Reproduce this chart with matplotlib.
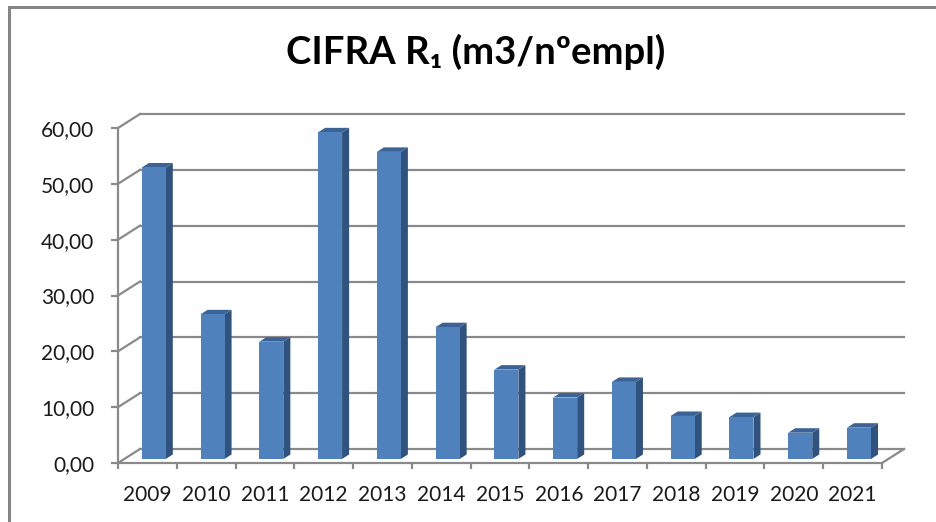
import numpy as np
import matplotlib.pyplot as plt
from matplotlib.patches import Polygon, Rectangle
from matplotlib.ticker import FuncFormatter

# data
years = ['2009', '2010', '2011', '2012', '2013', '2014', '2015',
         '2016', '2017', '2018', '2019', '2020', '2021']
values = [52.2, 25.9, 21.0, 58.5, 55.0, 23.6, 16.0,
          11.0, 13.8, 7.7, 7.5, 4.7, 5.6]
y_ticks = [0, 10, 20, 30, 40, 50, 60]
title = 'CIFRA R\u2081 (m3/n\u00baempl)'

W, H = 936, 522
fig = plt.figure(figsize=(W / 100, H / 100), dpi=100)

# front plane of the plot area in pixels
left_px, right_px = 118, 882
bottom_px, top_px = 463, 128
ax = fig.add_axes([left_px / W, 1 - bottom_px / H,
                   (right_px - left_px) / W, (bottom_px - top_px) / H])
n = len(years)
ax.set_xlim(0, n)
ax.set_ylim(0, 60)

# depth offset of the back wall, in data units
px_x = (right_px - left_px) / n
px_y = (bottom_px - top_px) / 60
DX = 22 / px_x
DY = 14 / px_y

grid_col = '#8a8a8a'
for g in y_ticks:
    ax.plot([DX, n + DX], [g + DY, g + DY], color=grid_col, lw=1.6, clip_on=False)
    ax.plot([0, DX], [g, g + DY], color=grid_col, lw=1.6, clip_on=False)
# right edge of the floor
ax.plot([n, n + DX], [0, DY], color=grid_col, lw=1.6, clip_on=False)

# 3d-looking bars
front_c, side_c, top_c = '#4f81bd', '#30527f', '#3b6396'
d0, d1 = 0.29, 0.61
w = 24 / px_x
for i, v in enumerate(values):
    xl = i + 0.5 - w / 2 + d0 * DX
    xr = xl + w
    yb = d0 * DY
    yt = v + d0 * DY
    ddx = (d1 - d0) * DX
    ddy = (d1 - d0) * DY
    ax.add_patch(Polygon([(xr, yb), (xr + ddx, yb + ddy), (xr + ddx, yt + ddy), (xr, yt)],
                         closed=True, fc=side_c, ec='none', clip_on=False, zorder=3))
    ax.add_patch(Polygon([(xl, yt), (xr, yt), (xr + ddx, yt + ddy), (xl + ddx, yt + ddy)],
                         closed=True, fc=top_c, ec='none', clip_on=False, zorder=3))
    ax.add_patch(Rectangle((xl, yb), w, v, fc=front_c, ec='none', clip_on=False, zorder=3))

# axes
for s in ['top', 'right']:
    ax.spines[s].set_visible(False)
for s in ['left', 'bottom']:
    ax.spines[s].set_color(grid_col)
    ax.spines[s].set_linewidth(1.6)

font = 'Lato'
ax.set_yticks(y_ticks)
ax.yaxis.set_major_formatter(FuncFormatter(lambda v, p: f'{v:.2f}'.replace('.', ',')))
ax.tick_params(axis='y', length=5, width=1.6, color=grid_col, pad=12,
               labelsize=15, labelcolor='#1a1a1a')
ax.set_xticks(np.arange(n + 1))
ax.set_xticklabels([])
ax.set_xticks(np.arange(n) + 0.5, minor=True)
ax.set_xticklabels(years, minor=True)
ax.tick_params(axis='x', which='major', length=4, width=1.6, color=grid_col)
ax.tick_params(axis='x', which='minor', length=0, pad=16, labelsize=15, labelcolor='#1a1a1a')
for lab in ax.get_yticklabels() + ax.get_xticklabels(minor=True):
    lab.set_fontfamily(font)

fig.text(476 / W, 1 - 64 / H, title, ha='center', va='baseline',
         fontsize=27.5, fontweight='bold', family=[font, 'DejaVu Sans'], color='black')

# chart border
fig.add_artist(Rectangle((8.5 / W, -0.1), 1.2, 1 - 6.5 / H + 0.1, transform=fig.transFigure,
                         fill=False, ec='#868686', lw=2.2))

fig.savefig('out.png', dpi=100)
